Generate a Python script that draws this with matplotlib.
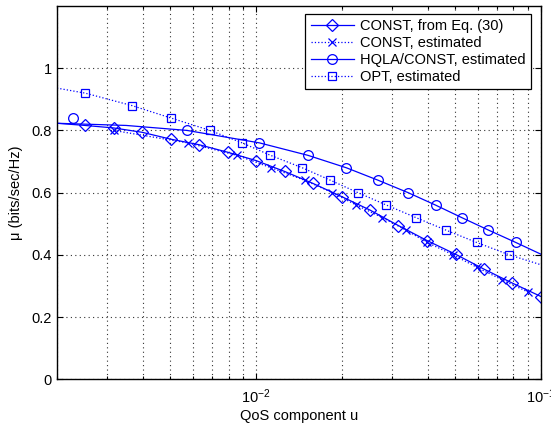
import matplotlib
matplotlib.use('Agg')
import matplotlib.pyplot as plt
from matplotlib.lines import Line2D

plt.rcParams['font.family'] = ['Liberation Sans', 'DejaVu Sans']
plt.rcParams['mathtext.fontset'] = 'custom'
plt.rcParams['mathtext.rm'] = 'Liberation Sans'
plt.rcParams['mathtext.it'] = 'Liberation Sans:italic'

# CONST, from Eq. (30)  (line + diamonds)
const_u = [0.002, 0.00251, 0.00316, 0.00398, 0.00501, 0.00631, 0.00794, 0.01,
           0.0126, 0.0158, 0.02, 0.0251, 0.0316, 0.0398, 0.0501, 0.0631,
           0.0794, 0.1]
const_mu = [0.823, 0.816, 0.808, 0.794, 0.772, 0.754, 0.730, 0.703,
            0.668, 0.630, 0.587, 0.544, 0.494, 0.446, 0.402, 0.354,
            0.309, 0.266]

# CONST, estimated  (dotted + x)
est_u = [0.00316, 0.00575, 0.00855, 0.01129, 0.01479, 0.01851, 0.02247,
         0.0277, 0.03351, 0.03982, 0.04916, 0.05954, 0.07293, 0.09023]
est_mu = [0.80, 0.76, 0.72, 0.68, 0.64, 0.60, 0.56, 0.52, 0.48, 0.44,
          0.40, 0.36, 0.32, 0.28]

# HQLA/CONST, estimated  (solid curve + circles)
hqla_line_u = [0.002, 0.0035, 0.00572, 0.01027, 0.01519, 0.02073, 0.02678,
               0.03415, 0.04263, 0.05262, 0.06525, 0.08147, 0.1]
hqla_line_mu = [0.823, 0.816, 0.80, 0.76, 0.72, 0.68, 0.64,
                0.60, 0.56, 0.52, 0.48, 0.44, 0.402]
hqla_u = [0.00228, 0.00572, 0.01027, 0.01519, 0.02073, 0.02678, 0.03415,
          0.04263, 0.05262, 0.06525, 0.08147]
hqla_mu = [0.84, 0.80, 0.76, 0.72, 0.68, 0.64, 0.60, 0.56, 0.52, 0.48, 0.44]

# OPT, estimated  (dotted + squares)
opt_line_u = [0.002, 0.00251, 0.00366, 0.00502, 0.00689, 0.00893, 0.01123,
              0.01451, 0.01821, 0.02277, 0.02866, 0.03634, 0.04622, 0.05939,
              0.07737, 0.1]
opt_line_mu = [0.936, 0.92, 0.88, 0.84, 0.80, 0.76, 0.72, 0.68, 0.64, 0.60,
               0.56, 0.52, 0.48, 0.44, 0.40, 0.368]
opt_u = opt_line_u[1:-1]
opt_mu = opt_line_mu[1:-1]

labels = ['CONST, from Eq. (30)', 'CONST, estimated',
          'HQLA/CONST, estimated', 'OPT, estimated']
blue = (0, 0, 1)

fig = plt.figure(figsize=(5.51, 4.28), dpi=100)
ax = fig.add_axes([0.1034, 0.1138, 0.8785, 0.8722])

lw = 0.9
ax.plot(const_u, const_mu, '-', color=blue, lw=lw)
ax.plot(const_u[1:], const_mu[1:], 'D', color=blue, mfc='none', ms=6.5, mew=0.9)
ax.plot(est_u, est_mu, ':', color=blue, lw=lw)
ax.plot(est_u, est_mu, 'x', color=blue, ms=5.5, mew=0.9)
ax.plot(hqla_line_u, hqla_line_mu, '-', color=blue, lw=lw)
ax.plot(hqla_u, hqla_mu, 'o', color=blue, mfc='none', ms=7, mew=0.9)
ax.plot(opt_line_u, opt_line_mu, ':', color=blue, lw=lw)
ax.plot(opt_u, opt_mu, 's', color=blue, mfc='none', ms=6, mew=0.9)

ax.set_xscale('log')
ax.set_xlim(0.002, 0.1)
ax.set_ylim(0, 1.2)
ax.set_yticks([0, 0.2, 0.4, 0.6, 0.8, 1.0])
ax.set_yticklabels(['0', '0.2', '0.4', '0.6', '0.8', '1'])
ax.set_xticks([0.01, 0.1])
ax.set_xticklabels(['$10^{-2}$', '$10^{-1}$'])

grid_ls = (0, (1, 3))
ax.grid(True, which='major', linestyle=grid_ls, color='0.2', lw=0.8)
ax.grid(True, which='minor', axis='x', linestyle=grid_ls, color='0.2', lw=0.8)
ax.tick_params(which='both', direction='in', top=True, right=True,
               labelsize=10.5, width=0.8)
ax.tick_params(which='major', length=4)
ax.tick_params(which='minor', length=2)
ax.tick_params(axis='x', which='major', pad=6)
ax.tick_params(axis='x', which='minor', labelbottom=False)
for s in ax.spines.values():
    s.set_linewidth(1.0)

ax.set_xlabel('QoS component u', fontsize=10.5, labelpad=2)
ax.set_ylabel('\u03bc (bits/sec/Hz)', fontsize=10.5, labelpad=6)

handles = [
    Line2D([], [], ls='-', color=blue, lw=lw, marker='D', mfc='none', ms=6.5, mew=0.9),
    Line2D([], [], ls=':', color=blue, lw=lw, marker='x', ms=5.5, mew=0.9),
    Line2D([], [], ls='-', color=blue, lw=lw, marker='o', mfc='none', ms=7, mew=0.9),
    Line2D([], [], ls=':', color=blue, lw=lw, marker='s', mfc='none', ms=6, mew=0.9),
]
leg = ax.legend(handles, labels, loc='upper right',
                bbox_to_anchor=(0.979, 0.979), borderaxespad=0,
                fontsize=10.5, fancybox=False, framealpha=1,
                edgecolor='black', borderpad=0.35, labelspacing=0.2,
                handlelength=3.0, handletextpad=0.4)
leg.get_frame().set_linewidth(0.9)

fig.savefig('out.png', dpi=100)
